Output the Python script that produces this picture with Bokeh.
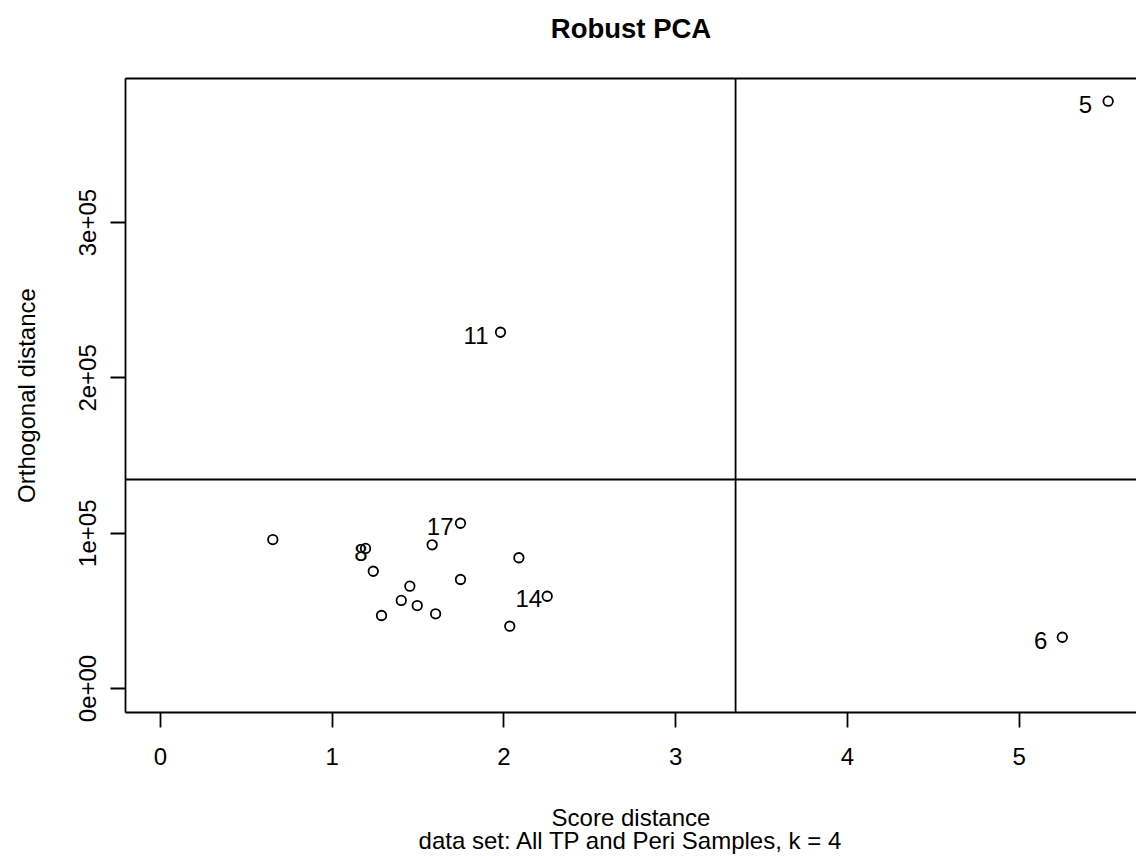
from bokeh.plotting import figure
from bokeh.models import Range1d, FixedTicker, Span, Title, LinearAxis, ColumnDataSource
from bokeh.core.properties import value
from bokeh.embed import file_html
from bokeh.resources import INLINE

# ---- data ----
score_distance = [0.654, 1.194, 1.239, 1.582, 1.747, 2.087, 1.452, 1.747, 1.402,
                  1.495, 1.287, 1.602, 2.252, 2.034, 1.980, 5.519, 5.252]
orthogonal_distance = [95900, 90200, 75500, 92500, 106400, 84200, 65900, 70200, 56700,
                       53400, 47000, 48100, 59400, 40100, 229400, 378200, 33000]
point_labels = ["", "8", "", "", "17", "", "", "", "", "", "", "", "14", "", "11", "5", "6"]
sd_cutoff = 3.349
od_cutoff = 134600
x_ticks = [0, 1, 2, 3, 4, 5]
y_ticks = [0, 100000, 200000, 300000]
y_tick_labels = ["0e+00", "1e+05", "2e+05", "3e+05"]

title_text = "Robust PCA"
x_label = "Score distance"
sub_label = "data set: All TP and Peri Samples, k = 4"
y_label = "Orthogonal distance"

# ---- label placement style (pixels) ----
label_dx = {"5": -16, "6": -15, "11": -12, "17": -7, "14": -5, "8": 2}
label_dy = {"5": 3.5, "6": 3.5, "11": 3.5, "17": 3.5, "14": 2, "8": 4}

FONT = "Liberation Sans"
LW = 1.8

p = figure(width=1136, height=857,
           x_range=Range1d(-0.204, 5.684), y_range=Range1d(-15450, 392800),
           output_backend="svg", toolbar_location=None,
           min_border_left=125, min_border_right=0, min_border_top=78, min_border_bottom=145)
p.grid.visible = False
p.outline_line_color = None
p.background_fill_color = "white"
p.border_fill_color = "white"

xa = p.xaxis[0]
xa.ticker = FixedTicker(ticks=x_ticks)
ya = p.yaxis[0]
ya.ticker = FixedTicker(ticks=y_ticks)
ya.major_label_overrides = {t: s for t, s in zip(y_ticks, y_tick_labels)}
ya.major_label_orientation = "vertical"
for ax in (xa, ya):
    ax.major_tick_out = 15
    ax.major_tick_in = 0
    ax.minor_tick_out = 0
    ax.minor_tick_in = 0
    ax.axis_line_width = LW
    ax.axis_line_color = "black"
    ax.major_tick_line_width = LW
    ax.major_tick_line_color = "black"
    ax.major_label_text_font = FONT
    ax.major_label_text_font_size = "24px"
    ax.major_label_text_color = "black"
    ax.axis_label_text_font = FONT
    ax.axis_label_text_font_size = "24px"
    ax.axis_label_text_font_style = "normal"
    ax.axis_label_text_color = "black"
xa.major_label_standoff = 20
ya.major_label_standoff = 14
xa.axis_label = x_label
xa.axis_label_standoff = 36
ya.axis_label = y_label
ya.axis_label_standoff = 37

# top border via an empty axis, whose label carries the main title
top_axis = LinearAxis(ticker=FixedTicker(ticks=[]), major_tick_out=0, major_tick_in=0,
                      minor_tick_out=0, minor_tick_in=0, axis_line_width=LW,
                      axis_line_color="black", major_label_standoff=0,
                      axis_label=title_text, axis_label_standoff=35,
                      axis_label_text_font=FONT, axis_label_text_font_size="27.5px",
                      axis_label_text_font_style="bold", axis_label_text_color="black")
p.add_layout(top_axis, "above")

sub = Title(text=sub_label, align="center", text_font=FONT, text_font_size="24px",
            text_font_style="normal", text_color="black", offset=0, standoff=-17)
p.add_layout(sub, "below")

p.add_layout(Span(location=sd_cutoff, dimension="height", line_color="black", line_width=LW))
p.add_layout(Span(location=od_cutoff, dimension="width", line_color="black", line_width=LW))

p.scatter(score_distance, orthogonal_distance, marker="circle", size=9.5,
          fill_color=None, line_color="black", line_width=LW)

lx, ly, lt, ldx, ldy = [], [], [], [], []
for x, y, t in zip(score_distance, orthogonal_distance, point_labels):
    if t:
        lx.append(x); ly.append(y); lt.append(t)
        ldx.append(label_dx[t]); ldy.append(label_dy[t])
src = ColumnDataSource(dict(x=lx, y=ly, t=lt, dx=ldx, dy=ldy))
p.text(x="x", y="y", text="t", source=src, x_offset="dx", y_offset="dy",
       text_align="right", text_baseline="middle", text_font=value(FONT),
       text_font_size="24px", text_color="black")

open("out.html", "w").write(file_html(p, INLINE))
